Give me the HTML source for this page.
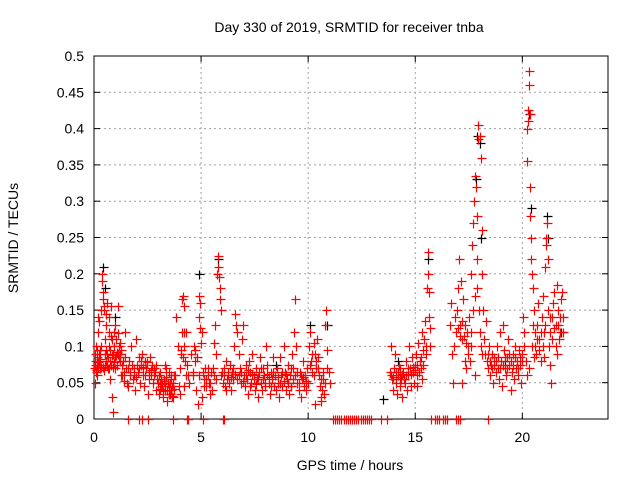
<!DOCTYPE html>
<html><head><meta charset="utf-8"><style>
body{margin:0;background:#fff}
svg{display:block;font-family:"Liberation Sans",sans-serif}
</style></head><body>
<svg id="chart" width="640" height="480" viewBox="0 0 640 480">
<text x="349" y="32" font-size="14" text-anchor="middle">Day 330 of 2019, SRMTID for receiver tnba</text>
<text x="350" y="470" font-size="14" text-anchor="middle">GPS time / hours</text>
<text transform="translate(18,238) rotate(-90)" font-size="14" text-anchor="middle">SRMTID / TECUs</text>
<g id="grid"></g>
<rect x="94" y="56" width="514" height="363" fill="none" stroke="#000" stroke-width="1"/>
<g id="ticks"></g><g id="black"></g><g id="red"></g>
</svg>
<script>
const xTicks=[0,5,10,15,20];
const yTicks=[0,0.05,0.1,0.15,0.2,0.25,0.3,0.35,0.4,0.45,0.5];
const yTickLabels=["0","0.05","0.1","0.15","0.2","0.25","0.3","0.35","0.4","0.45","0.5"];
const blackPoints=[[0.5,.18],[0.4,.21],[1.0,.14],[4.9,.2],[5.8,.22],[10.1,.13],[10.9,.13],[13.5,.028],[15.6,.22],[17.9,.39],[18.0,.38],[17.85,.33],[18.05,.25],[20.3,.42],[20.4,.29],[21.15,.28],[21.2,.25],[2.8,.07],[8.5,.075],[9.2,.045],[14.2,.08],[19.2,.08],[21.8,.12]];
const redPoints=[
[0.02,.07],[0.05,.09],[0.08,.065],[0.1,.1],[0.12,.075],[0.15,.085],[0.18,.12],[0.2,.14],[0.22,.135],[0.25,.08],[0.27,.07],[0.3,.095],[0.33,.15],[0.36,.19],[0.38,.2],[0.4,.175],[0.42,.165],[0.45,.15],[0.48,.155],[0.5,.11],[0.52,.09],[0.55,.13],[0.58,.145],[0.6,.16],[0.62,.075],[0.65,.07],[0.68,.14],[0.7,.12],[0.72,.1],[0.75,.08],[0.78,.155],[0.8,.115],[0.82,.11],[0.85,.03],[0.87,.01],[0.9,.09],[0.92,.12],[0.95,.1],[0.98,.085],[1.0,.13],[1.05,.11],[1.08,.075],[1.1,.09],[1.12,.155],[1.15,.1],[1.2,.09],[1.25,.06],[1.3,.075],[1.35,.08],[1.4,.065],[1.45,.12],[1.5,.07],[0.05,.05],[0.15,.06],[0.35,.1],[0.55,.08],[0.75,.055],[1.0,.07],[1.2,.105],
[0.03,.08],[0.07,.075],[0.11,.068],[0.14,.095],[0.17,.072],[0.21,.078],[0.24,.09],[0.28,.083],[0.31,.071],[0.44,.072],[0.47,.068],[0.53,.074],[0.57,.095],[0.63,.09],[0.66,.085],[0.71,.07],[0.74,.095],[0.79,.075],[0.84,.088],[0.89,.072],[0.94,.078],[1.03,.088],[1.07,.092],[1.13,.118],[1.17,.085],[1.23,.08],[1.28,.095],[1.33,.06],[1.38,.052],[1.43,.085],
[1.55,.05],[1.6,.045],[1.65,.08],[1.7,.06],[1.75,.1],[1.8,.055],[1.85,.07],[1.9,.04],[1.95,.11],[2.0,.075],[2.05,.065],[2.1,.085],[2.15,.05],[2.2,.075],[2.25,.09],[2.3,.06],[2.35,.045],[2.4,.08],[2.45,.07],[2.5,.035],[2.55,.065],[2.6,.085],[2.65,.06],[2.7,.075],[2.75,.05],[2.8,.07],[2.85,.065],[2.9,.04],[2.95,.055],
[1.58,.07],[1.68,.065],[1.78,.075],[1.88,.06],[1.98,.058],[2.08,.07],[2.18,.08],[2.28,.072],[2.38,.06],[2.48,.078],[2.58,.055],[2.68,.068],[2.78,.06],[2.88,.075],
[3.0,.05],[3.05,.035],[3.1,.065],[3.15,.045],[3.2,.03],[3.25,.055],[3.3,.04],[3.35,.07],[3.4,.025],[3.45,.05],[3.5,.065],[3.55,.035],[3.6,.055],[3.65,.045],[3.7,.03],[3.75,.06],[3.3,.075],[3.5,.045],[3.1,.05],[3.6,.04],
[3.03,.06],[3.08,.042],[3.13,.055],[3.18,.048],[3.23,.038],[3.28,.052],[3.33,.045],[3.38,.058],[3.43,.04],[3.48,.035],[3.53,.05],[3.58,.06],[3.63,.032],[3.68,.05],[3.73,.042],
[3.8,.06],[3.85,.14],[3.9,.1],[3.95,.045],[4.0,.07],[4.05,.09],[4.1,.12],[4.12,.165],[4.15,.17],[4.18,.155],[4.2,.1],[4.25,.08],[4.3,.12],[4.35,.075],[4.4,.06],[4.45,.05],[4.0,.035],[4.2,.045],[4.08,.095],[4.14,.085],[4.22,.12],[4.28,.06],
[4.55,.09],[4.6,.06],[4.65,.1],[4.7,.08],[4.75,.04],[4.8,.085],[4.85,.02],[4.9,.17],[4.92,.14],[4.95,.16],[4.97,.125],[5.0,.105],[5.02,.03],[5.05,.12],[5.1,.065],[5.15,.055],[5.2,.07],[5.25,.045],[5.3,.06],[5.35,.05],[5.4,.035],[5.45,.065],[5.5,.04],[4.62,.065],[4.72,.095],[4.88,.06],[5.12,.045],[5.22,.055],[5.32,.07],[5.42,.05],
[5.55,.07],[5.6,.105],[5.65,.13],[5.7,.09],[5.75,.2],[5.78,.225],[5.8,.21],[5.83,.195],[5.86,.18],[5.9,.165],[5.93,.15],[5.95,.06],[6.0,.05],[6.05,.07],[6.1,.045],[6.15,.08],[6.2,.055],[5.58,.06],[5.68,.055],[5.98,.065],[6.08,.06],[6.18,.04],
[6.25,.06],[6.3,.05],[6.35,.075],[6.4,.04],[6.45,.065],[6.5,.055],[6.55,.1],[6.6,.145],[6.65,.13],[6.7,.12],[6.75,.09],[6.8,.07],[6.85,.05],[6.9,.11],[6.95,.13],[7.0,.06],[7.05,.045],[7.1,.075],[7.15,.055],[7.2,.035],[7.25,.08],[7.3,.065],[7.35,.05],[7.4,.09],[7.45,.06],[7.5,.04],[7.55,.07],[7.6,.055],[7.65,.03],[7.7,.065],[7.75,.085],[7.8,.05],[7.85,.04],[7.9,.07],[7.95,.06],[8.0,.045],[8.05,.1],[8.1,.075],[8.15,.05],[8.2,.035],[8.25,.065],[8.3,.055],[8.35,.085],[8.4,.045],[8.45,.06],
[6.28,.065],[6.38,.058],[6.48,.07],[6.58,.062],[6.68,.055],[6.78,.06],[6.88,.065],[6.98,.052],[7.08,.06],[7.18,.068],[7.28,.045],[7.38,.062],[7.48,.055],[7.58,.048],[7.68,.058],[7.78,.07],[7.88,.055],[7.98,.05],[8.08,.062],[8.18,.058],[8.28,.045],[8.38,.065],
[8.5,.04],[8.55,.07],[8.6,.05],[8.65,.03],[8.7,.085],[8.75,.06],[8.8,.045],[8.85,.1],[8.9,.065],[8.95,.04],[9.0,.055],[9.05,.075],[9.1,.035],[9.15,.06],[9.2,.045],[9.25,.09],[9.3,.07],[9.35,.12],[9.4,.165],[9.45,.1],[9.5,.05],[9.55,.04],[9.6,.065],[9.65,.03],[9.7,.055],[9.75,.08],[9.8,.045],[9.85,.06],[9.9,.04],[9.95,.07],
[8.58,.058],[8.68,.05],[8.78,.065],[8.88,.052],[8.98,.062],[9.08,.05],[9.18,.07],[9.28,.055],[9.38,.06],[9.48,.065],[9.58,.05],[9.68,.06],[9.78,.058],[9.88,.052],
[10.0,.05],[10.05,.1],[10.1,.12],[10.15,.08],[10.2,.065],[10.25,.105],[10.3,.09],[10.35,.07],[10.4,.11],[10.45,.085],[10.5,.06],[10.55,.045],[10.6,.025],[10.65,.04],[10.7,.055],[10.75,.035],[10.8,.13],[10.85,.15],[10.9,.095],[10.95,.065],[11.0,.05],[10.3,.02],[10.6,.03],[10.08,.075],[10.18,.09],[10.28,.06],[10.38,.08],[10.48,.07],[10.58,.055],[10.68,.065],[10.78,.05],[10.88,.07],
[13.8,.065],[13.85,.1],[13.9,.055],[13.95,.04],[14.0,.07],[14.05,.09],[14.1,.05],[14.15,.035],[14.2,.06],[14.25,.075],[14.3,.045],[14.35,.055],[14.4,.03],[14.45,.065],[14.5,.05],[14.55,.08],[14.6,.04],[14.65,.06],[14.7,.1],[14.75,.07],[14.8,.045],[14.85,.085],[14.9,.065],[14.95,.05],[14.3,.07],[14.1,.065],
[13.88,.06],[13.98,.058],[14.08,.055],[14.18,.065],[14.28,.058],[14.38,.062],[14.48,.055],[14.58,.06],[14.68,.07],[14.78,.062],[14.88,.072],[14.98,.068],
[15.0,.075],[15.05,.09],[15.1,.06],[15.15,.105],[15.2,.08],[15.25,.07],[15.3,.12],[15.35,.095],[15.4,.11],[15.45,.135],[15.5,.09],[15.55,.18],[15.58,.2],[15.6,.23],[15.62,.175],[15.65,.14],[15.68,.125],[15.7,.1],[15.1,.045],[15.3,.055],[15.08,.075],[15.18,.065],[15.28,.085],[15.38,.075],[15.48,.1],
[16.6,.13],[16.65,.16],[16.7,.09],[16.75,.05],[16.8,.1],[16.85,.14],[16.9,.12],[16.95,.15],[17.0,.18],[17.05,.22],[17.1,.13],[17.15,.19],[17.2,.11],[17.25,.165],[17.3,.08],[17.35,.07],[17.4,.12],[17.45,.1],[17.5,.14],[17.55,.08],[17.6,.2],[17.65,.24],[17.7,.27],[17.75,.3],[17.8,.335],[17.85,.32],[17.9,.28],[17.93,.385],[17.95,.405],[18.0,.39],[18.05,.36],[18.1,.26],[18.12,.2],[18.15,.15],[18.2,.11],[18.25,.09],[18.3,.135],[17.3,.13],[17.6,.1],[17.8,.06],[17.9,.18],[18.0,.12],[18.1,.09],[17.2,.05],
[16.98,.125],[17.08,.115],[17.18,.135],[17.28,.115],[17.38,.105],[17.48,.09],[17.58,.12],[17.68,.15],[17.78,.17],[17.88,.22],[17.98,.15],[18.08,.1],
[18.35,.08],[18.4,.07],[18.45,.1],[18.5,.06],[18.55,.075],[18.6,.09],[18.65,.05],[18.7,.085],[18.75,.065],[18.8,.1],[18.85,.07],[18.9,.055],[18.95,.12],[19.0,.08],[19.05,.045],[19.1,.13],[19.15,.095],[19.2,.07],[19.25,.06],[19.3,.085],[19.35,.11],[19.4,.075],[19.45,.04],[19.5,.065],[19.55,.09],[19.6,.055],[19.65,.1],[19.7,.07],[19.75,.08],[19.8,.06],[19.85,.095],[19.9,.075],[19.95,.05],
[18.38,.09],[18.48,.08],[18.58,.07],[18.68,.075],[18.78,.08],[18.88,.085],[18.98,.07],[19.08,.075],[19.18,.085],[19.28,.07],[19.38,.09],[19.48,.08],[19.58,.075],[19.68,.085],[19.78,.07],[19.88,.085],[19.98,.08],
[20.0,.09],[20.05,.14],[20.1,.12],[20.15,.08],[20.2,.355],[20.22,.4],[20.25,.425],[20.28,.41],[20.3,.46],[20.32,.48],[20.34,.42],[20.36,.32],[20.38,.28],[20.4,.22],[20.42,.25],[20.45,.2],[20.5,.18],[20.55,.15],[20.6,.12],[20.3,.07],[20.45,.1],[20.2,.06],[20.55,.085],[20.08,.1],[20.48,.13],[20.58,.1],
[20.65,.09],[20.7,.13],[20.75,.16],[20.8,.11],[20.85,.08],[20.9,.14],[20.95,.17],[21.0,.12],[21.05,.21],[21.1,.25],[21.12,.24],[21.15,.27],[21.18,.22],[21.2,.15],[21.25,.1],[21.3,.12],[21.35,.05],[21.4,.14],[21.45,.16],[21.5,.175],[21.55,.13],[21.6,.185],[21.65,.15],[21.7,.11],[21.75,.12],[21.8,.165],[21.85,.175],[21.9,.14],[21.0,.085],[21.3,.075],[21.6,.09],
[20.68,.11],[20.78,.095],[20.88,.12],[20.98,.1],[21.08,.13],[21.28,.14],[21.38,.11],[21.48,.125],[21.58,.1],[21.68,.13],[21.78,.14],[21.88,.12],
[1.6,0],[2.1,0],[2.25,0],[2.5,0],[3.7,0],[4.35,0],[4.4,0],[5.1,0],[6.0,0],[6.05,0],
[11.15,0],[11.25,0],[11.35,0],[11.45,0],[11.55,0],[11.65,0],[11.75,0],[11.85,0],[11.95,0],[12.05,0],[12.15,0],[12.25,0],[12.35,0],[12.45,0],[12.55,0],[12.65,0],[12.75,0],[12.85,0],[12.95,0],[13.4,0],[13.7,0],
[15.75,0],[15.9,0],[16.0,0],[16.1,0],[16.3,0],[16.4,0],[16.5,0],[16.9,0],[17.0,0],[17.1,0],[18.4,0]];
const NS="http://www.w3.org/2000/svg";
const X0=94,X1=608,Y0=419,Y1=56;
function xs(h){return X0+(h/24)*(X1-X0);}
function ys(v){return Y0-(v/0.5)*(Y0-Y1);}
function mk(tag,attrs,parent){const e=document.createElementNS(NS,tag);for(const k in attrs)e.setAttribute(k,attrs[k]);parent.appendChild(e);return e;}
const grid=document.getElementById('grid'),ticks=document.getElementById('ticks');
xTicks.forEach(t=>{
  const x=xs(t);
  if(t>0){const g=mk('line',{x1:x,x2:x,y1:Y0,y2:Y1,stroke:'#a0a0a0','stroke-dasharray':'2,3'},grid);
  
  }
  mk('line',{x1:x,x2:x,y1:Y0,y2:Y0-6,stroke:'#000'},ticks);
  mk('line',{x1:x,x2:x,y1:Y1,y2:Y1+6,stroke:'#000'},ticks);
  const l=mk('text',{x:x,y:Y0+23,'font-size':14,'text-anchor':'middle'},ticks);
  l.textContent=t;
  
  
});
yTicks.forEach((v,i)=>{
  const y=ys(v);
  if(i>0&&i<yTicks.length-1){const g=mk('line',{x1:X0,x2:X1,y1:y,y2:y,stroke:'#a0a0a0','stroke-dasharray':'2,3'},grid);
  
  }
  mk('line',{x1:X0,x2:X0+6,y1:y,y2:y,stroke:'#000'},ticks);
  mk('line',{x1:X1,x2:X1-6,y1:y,y2:y,stroke:'#000'},ticks);
  const l=mk('text',{x:X0-10,y:y+5,'font-size':14,'text-anchor':'end'},ticks);
  l.textContent=yTickLabels[i];
  
  
});
function plot(pts,color,gid,name){
  const g=document.getElementById(gid);
  pts.forEach(p=>{
    const x=Math.round(xs(p[0]))+0.5,y=Math.round(ys(p[1]))+0.5;
    const e=mk('path',{d:`M${x-4} ${y}h9M${x} ${y-4}v9`,stroke:color,'stroke-width':1.2,fill:'none'},g);
    
    
  });
}
plot(blackPoints,'#000','black','black-point');
plot(redPoints,'#ff0000','red','red-point');
</script>
</body></html>
